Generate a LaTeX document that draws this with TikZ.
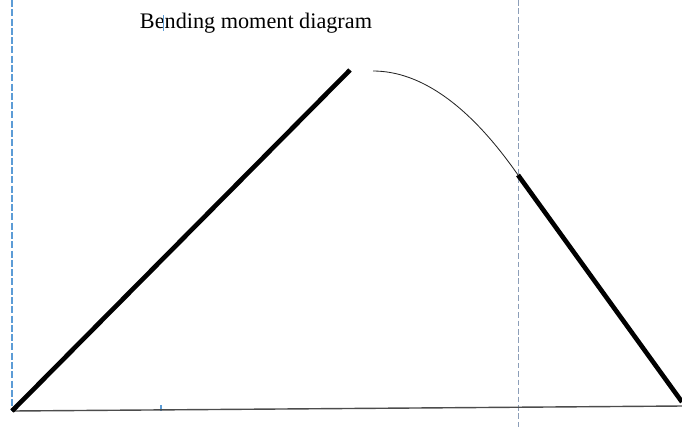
\documentclass[tikz,border=0pt]{standalone}
\usepackage{fontspec}
\setmainfont{Liberation Serif}
\usepackage{xcolor}
\usetikzlibrary{calc}
\definecolor{guideblue}{rgb}{0.36,0.61,0.84}
\definecolor{guidegray}{rgb}{0.55,0.62,0.72}
\definecolor{basegray}{rgb}{0.3,0.3,0.3}

\begin{document}
\begin{tikzpicture}[
    x=0.025cm, y=-0.025cm,
    guide/.style={line width=1.2pt, dash pattern=on 5pt off 1.6pt},
    moment/.style={line width=3.3pt, color=black},
    arcline/.style={line width=0.6pt, color=black!85},
    baseline/.style={line width=1.0pt, color=basegray},
    tick/.style={line width=1.1pt, color=guideblue}
]
    \useasboundingbox (0,0) rectangle (682,429);

    % Title
    \node[font=\fontsize{15.8}{19}\selectfont] (title) at (256,23) {Bending moment diagram};

    % Key points
    \coordinate (supA) at (12,411);
    \coordinate (supB) at (682,406);
    \coordinate (peak) at (350,70);
    \coordinate (arcS) at (373,71);
    \coordinate (arcE) at (518,175);
    \coordinate (endR) at (682,402);

    % Guide lines
    \coordinate (gA1) at (12,0);
    \coordinate (gA2) at (12,411);
    \coordinate (gB1) at (518,0);
    \coordinate (gB2) at (518,429);
    \draw[guide, color=guideblue] (gA1) -- (gA2);
    \draw[guide, color=guidegray, line width=0.6pt, dash pattern=on 4pt off 2pt] (gB1) -- (gB2);

    % Small marks
    \coordinate (t1a) at (161,405);
    \coordinate (t1b) at (161,411);
    \coordinate (t2a) at (163,15);
    \coordinate (t2b) at (163,31);
    \draw[tick] (t1a) -- (t1b);
    \draw[tick, line width=0.7pt] (t2a) -- (t2b);

    % Beam axis
    \draw[baseline] (supA) -- (supB);

    % Moment diagram
    \draw[moment] (supA) -- (peak);
    \draw[arcline] (arcS) .. controls (421,71) and (470,106) .. (arcE);
    \draw[moment] (arcE) -- (endR);

\end{tikzpicture}
\end{document}
